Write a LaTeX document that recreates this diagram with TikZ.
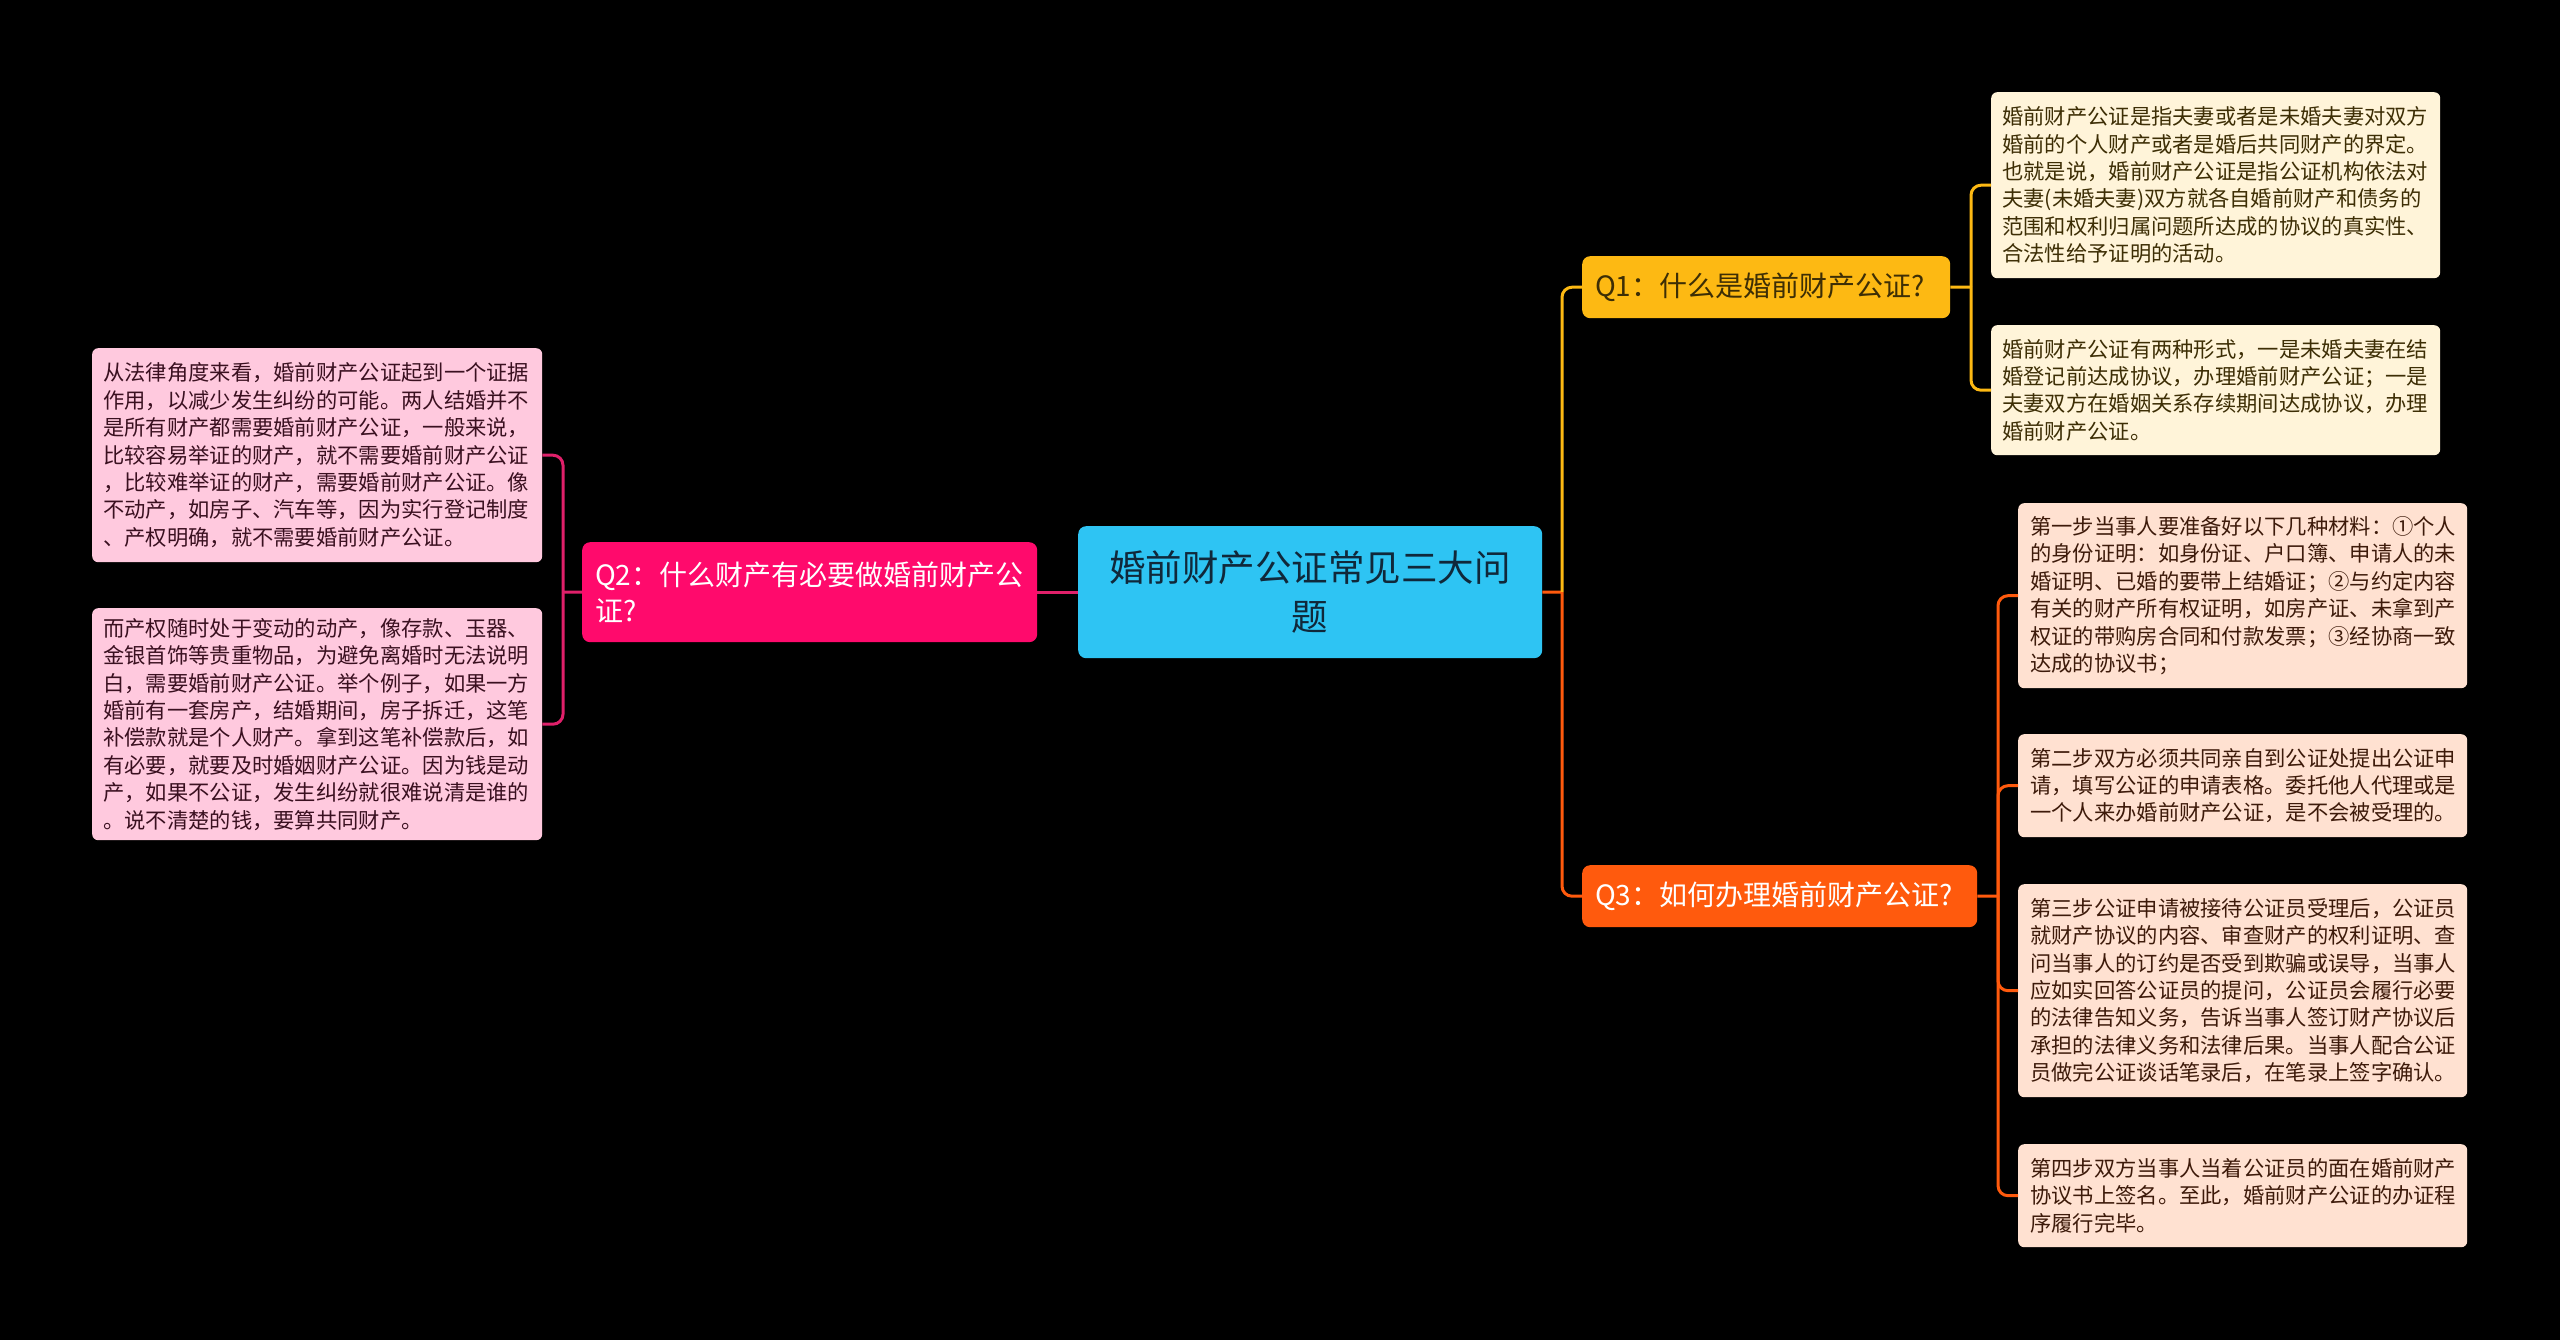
\documentclass[tikz,border=0pt]{standalone}
\usepackage{fontspec}
\setmainfont{Noto Sans CJK SC}
\definecolor{cCenter}{HTML}{2EC4F3}
\definecolor{cQone}{HTML}{FDB913}
\definecolor{cQtwo}{HTML}{FF0A6C}
\definecolor{cQthree}{HTML}{FF5A0D}
\definecolor{cLineTwo}{HTML}{E0206A}
\definecolor{cPink}{HTML}{FFC9DE}
\definecolor{cCream}{HTML}{FFF4D9}
\definecolor{cPeach}{HTML}{FFE1D1}
\definecolor{tPink}{HTML}{3A1020}
\definecolor{tCream}{HTML}{3D2E05}
\definecolor{tPeach}{HTML}{3D1A0A}
\definecolor{tCenter}{HTML}{10283A}
\begin{document}
\begin{tikzpicture}[x=1pt,y=-1pt,
  leafbox/.style={rounded corners=6, anchor=north west, align=left, inner xsep=11, inner ysep=0,
    font=\fontsize{21.3}{27.4}\selectfont},
  qbox/.style={rounded corners=8, anchor=north west, align=left, inner xsep=13, inner ysep=0,
    font=\fontsize{28}{36}\selectfont},
  conn/.style={line width=3, rounded corners=10}
]
\fill[black] (0,0) rectangle (2560,1340);
\useasboundingbox (0,0) rectangle (2560,1340);

% center
\node[rounded corners=8, anchor=north west, fill=cCenter, text=tCenter, align=center,
  minimum width=464, minimum height=132, text width=440, inner xsep=12, inner ysep=0,
  font=\fontsize{36.5}{49}\selectfont] (c) at (1078,526) {婚前财产公证常见三大问\\题};

% Q nodes
\node[qbox, fill=cQone, text=tCream, minimum height=62, text width=342] (q1) at (1582,256) {Q1：什么是婚前财产公证?};
\node[qbox, fill=cQtwo, text=white, minimum height=100, text width=429] (q2) at (582,542) {Q2：什么财产有必要做婚前财产公\\证?};
\node[qbox, fill=cQthree, text=white, minimum height=62, text width=369] (q3) at (1582,865) {Q3：如何办理婚前财产公证?};

% left leaves
\node[leafbox, fill=cPink, text=tPink, minimum height=214, text width=428] (l1) at (92,348) {从法律角度来看，婚前财产公证起到一个证据\\作用，以减少发生纠纷的可能。两人结婚并不\\是所有财产都需要婚前财产公证，一般来说，\\比较容易举证的财产，就不需要婚前财产公证\\，比较难举证的财产，需要婚前财产公证。像\\不动产，如房子、汽车等，因为实行登记制度\\、产权明确，就不需要婚前财产公证。};
\node[leafbox, fill=cPink, text=tPink, minimum height=232, text width=428] (l2) at (92,608) {而产权随时处于变动的动产，像存款、玉器、\\金银首饰等贵重物品，为避免离婚时无法说明\\白，需要婚前财产公证。举个例子，如果一方\\婚前有一套房产，结婚期间，房子拆迁，这笔\\补偿款就是个人财产。拿到这笔补偿款后，如\\有必要，就要及时婚姻财产公证。因为钱是动\\产，如果不公证，发生纠纷就很难说清是谁的\\。说不清楚的钱，要算共同财产。};

% Q1 leaves
\node[leafbox, fill=cCream, text=tCream, minimum height=186, text width=427] (a1) at (1991,92) {婚前财产公证是指夫妻或者是未婚夫妻对双方\\婚前的个人财产或者是婚后共同财产的界定。\\也就是说，婚前财产公证是指公证机构依法对\\夫妻(未婚夫妻)双方就各自婚前财产和债务的\\范围和权利归属问题所达成的协议的真实性、\\合法性给予证明的活动。};
\node[leafbox, fill=cCream, text=tCream, minimum height=130, text width=427] (a2) at (1991,325) {婚前财产公证有两种形式，一是未婚夫妻在结\\婚登记前达成协议，办理婚前财产公证；一是\\夫妻双方在婚姻关系存续期间达成协议，办理\\婚前财产公证。};

% Q3 leaves
\node[leafbox, inner xsep=12, fill=cPeach, text=tPeach, minimum height=185, text width=425] (b1) at (2018,503) {第一步当事人要准备好以下几种材料：①个人\\的身份证明：如身份证、户口簿、申请人的未\\婚证明、已婚的要带上结婚证；②与约定内容\\有关的财产所有权证明，如房产证、未拿到产\\权证的带购房合同和付款发票；③经协商一致\\达成的协议书；};
\node[leafbox, inner xsep=12, fill=cPeach, text=tPeach, minimum height=103, text width=425] (b2) at (2018,734) {第二步双方必须共同亲自到公证处提出公证申\\请，填写公证的申请表格。委托他人代理或是\\一个人来办婚前财产公证，是不会被受理的。};
\node[leafbox, inner xsep=12, fill=cPeach, text=tPeach, minimum height=213, text width=425] (b3) at (2018,884) {第三步公证申请被接待公证员受理后，公证员\\就财产协议的内容、审查财产的权利证明、查\\问当事人的订约是否受到欺骗或误导，当事人\\应如实回答公证员的提问，公证员会履行必要\\的法律告知义务，告诉当事人签订财产协议后\\承担的法律义务和法律后果。当事人配合公证\\员做完公证谈话笔录后，在笔录上签字确认。};
\node[leafbox, inner xsep=12, fill=cPeach, text=tPeach, minimum height=103, text width=425] (b4) at (2018,1144) {第四步双方当事人当着公证员的面在婚前财产\\协议书上签名。至此，婚前财产公证的办证程\\序履行完毕。};

% junctions
\coordinate (jr) at (1562,592);
\coordinate (jl) at (563,592);
\coordinate (j1) at (1971,287);
\coordinate (j3) at (1998,896);

% connectors
\draw[conn, cQthree] (c.east) -- (jr);
\draw[conn, cQone] (jr) |- (q1.west);
\draw[conn, cQthree] (jr) |- (q3.west);
\draw[conn, cLineTwo] (c.west) -- (q2.east);
\draw[conn, cLineTwo] (q2.west) -- (jl);
\draw[conn, cLineTwo] (jl) |- (l1.east);
\draw[conn, cLineTwo] (jl) |- (l2.east);
\draw[conn, cQone] (q1.east) -- (j1);
\draw[conn, cQone] (j1) |- (a1.west);
\draw[conn, cQone] (j1) |- (a2.west);
\draw[conn, cQthree] (q3.east) -- (j3);
\draw[conn, cQthree] (j3) |- (b1.west);
\draw[conn, cQthree] (j3) |- (b2.west);
\draw[conn, cQthree] (j3) |- (b3.west);
\draw[conn, cQthree] (j3) |- (b4.west);
\end{tikzpicture}
\end{document}
